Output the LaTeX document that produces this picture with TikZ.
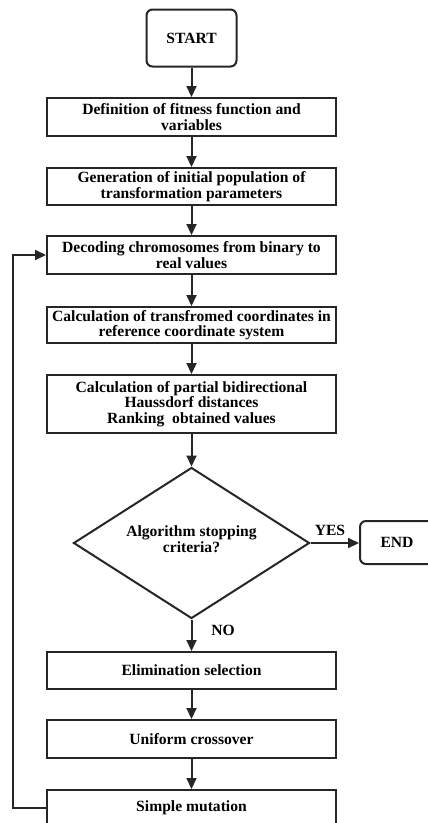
\documentclass[tikz,border=0pt]{standalone}
\usepackage{fontspec}
\setmainfont{Liberation Serif}
\usetikzlibrary{shapes.geometric,arrows.meta}
\begin{document}
\begin{tikzpicture}[x=1pt,y=-1pt,
  every node/.style={font=\bfseries\fontsize{15.6}{15.5}\selectfont, align=center, inner sep=0pt, line width=2pt, draw=black!85},
  procbox/.style={rectangle, minimum width=289pt},
  termbox/.style={rectangle, rounded corners=6pt},
  decision/.style={diamond, minimum width=236pt, minimum height=151pt},
  lbl/.style={draw=none},
  flow/.style={line width=2pt, draw=black!85, -{Triangle[length=11pt,width=10pt]}}]
\useasboundingbox (0,0) rectangle (428,823);
\clip (0,0) rectangle (428,823);
\node[termbox, minimum width=90pt, minimum height=57pt] (start) at (191.5,38) {START};
\node[procbox, minimum height=38pt] (b1) at (191.5,117) {Definition of fitness function and\\variables};
\node[procbox, minimum height=37pt] (b2) at (191.5,186.5) {Generation of initial population of\\transformation parameters};
\node[procbox, minimum height=38pt] (b3) at (191.5,255) {Decoding chromosomes from binary to\\real values};
\node[procbox, minimum height=36pt] (b4) at (191.5,325) {Calculation of transfromed coordinates in\\reference coordinate system};
\node[procbox, minimum height=58pt] (b5) at (191.5,404) {Calculation of partial bidirectional\\Haussdorf distances\\Ranking~ obtained values};
\node[decision] (dec) at (191.5,543) {};
\node[lbl] (dectext) at (191.5,539) {Algorithm stopping\\criteria?};
\node[termbox, minimum width=74pt, minimum height=43pt] (end) at (397,542.5) {END};
\node[procbox, minimum height=37pt] (b6) at (191.5,670.5) {Elimination selection};
\node[procbox, minimum height=38pt] (b7) at (191.5,739) {Uniform crossover};
\node[procbox, minimum height=36pt] (b8) at (191.5,808) {Simple mutation};
\node[lbl] (yes) at (330,530) {YES};
\node[lbl] (no) at (223,630) {NO};
\coordinate (lb) at (13,808);
\coordinate (lt) at (13,255);
\draw[flow] (start) -- (b1);
\draw[flow] (b1) -- (b2);
\draw[flow] (b2) -- (b3);
\draw[flow] (b3) -- (b4);
\draw[flow] (b4) -- (b5);
\draw[flow] (b5) -- (dec.north);
\draw[flow] (dec.east) -- (end.west |- dec.east);
\draw[flow] (dec.south) -- (b6);
\draw[flow] (b6) -- (b7);
\draw[flow] (b7) -- (b8);
\draw[flow] (b8.west) -- (lb) -- (lt) -- (b3.west);
\end{tikzpicture}
\end{document}
